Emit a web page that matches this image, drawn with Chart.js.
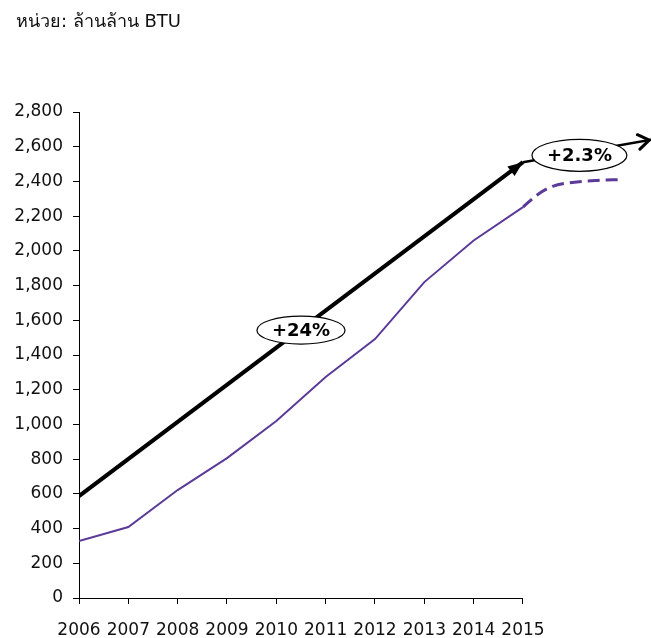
<!DOCTYPE html>
<html>
<head>
<meta charset="utf-8">
<script src="https://cdn.jsdelivr.net/npm/chart.js@4.4.1/dist/chart.umd.min.js"></script>
<style>
  html, body { margin: 0; padding: 0; background: #fff; }
  #wrap { position: relative; width: 651px; height: 638px; overflow: hidden; }
  #chart { position: absolute; left: 0; top: 0; }
  #unit { position: absolute; left: 16px; top: 6px; font: 18px "DejaVu Sans", "Noto Sans", sans-serif; color: #111; }
</style>
</head>
<body>
<div id="wrap">
  <canvas id="chart" width="651" height="638"></canvas>
  <div id="unit">หน่วย: ล้านล้าน BTU</div>
</div>
<script>
// ข้อมูลจริง 2006-2015
const years = [2006, 2007, 2008, 2009, 2010, 2011, 2012, 2013, 2014, 2015];
const demand = [328, 409, 622, 806, 1020, 1273, 1492, 1820, 2060, 2252];

// ส่วนต่อขยาย (เส้นประ)
const outlookYears = [2015, 2015.3, 2015.6, 2016, 2016.5, 2017];
const outlook = [2252, 2325, 2372, 2394, 2406, 2411];

// ลูกศรแนวโน้ม
const trendAX = [2006, 2015];
const trendAY = [587, 2511];
const trendBX = [2015, 2017.6];
const trendBY = [2511, 2640];
const trendLabels = ['+24%', '+2.3%'];

// แกน Y
const yTicks = [0, 200, 400, 600, 800, 1000, 1200, 1400, 1600, 1800, 2000, 2200, 2400, 2600, 2800];

const pts = (xs, ys) => xs.map((v, i) => ({ x: v, y: ys[i] }));
const font = '"DejaVu Sans", Verdana, sans-serif';

const annotate = {
    id: 'annotate',
    beforeDatasetsDraw(chart) {
        const { ctx, scales: { x, y } } = chart;
        // เส้นแกน X เฉพาะช่วงปีที่มีข้อมูล
        ctx.save();
        ctx.strokeStyle = '#000';
        ctx.lineWidth = 1;
        const y0 = Math.round(y.getPixelForValue(0)) + 0.5;
        ctx.beginPath();
        ctx.moveTo(x.getPixelForValue(years[0]), y0);
        ctx.lineTo(x.getPixelForValue(years[years.length - 1]), y0);
        ctx.stroke();
        ctx.restore();
    },
    afterDatasetsDraw(chart) {
        const { ctx, scales: { x, y } } = chart;
        ctx.save();

        // หัวลูกศรทึบของเส้นแรก
        let ex = x.getPixelForValue(trendAX[1]), ey = y.getPixelForValue(trendAY[1]);
        let sx = x.getPixelForValue(trendAX[0]), sy = y.getPixelForValue(trendAY[0]);
        let a = Math.atan2(ey - sy, ex - sx);
        ctx.fillStyle = '#000';
        ctx.beginPath();
        ctx.moveTo(ex, ey);
        ctx.lineTo(ex - 15 * Math.cos(a) + 6 * Math.sin(a), ey - 15 * Math.sin(a) - 6 * Math.cos(a));
        ctx.lineTo(ex - 15 * Math.cos(a) - 6 * Math.sin(a), ey - 15 * Math.sin(a) + 6 * Math.cos(a));
        ctx.closePath();
        ctx.fill();

        // หัวลูกศรเปิดของเส้นที่สอง
        ex = x.getPixelForValue(trendBX[1]) - 2; sx = x.getPixelForValue(trendBX[0]);
        sy = y.getPixelForValue(trendBY[0]);
        a = Math.atan2(y.getPixelForValue(trendBY[1]) - sy, x.getPixelForValue(trendBX[1]) - sx);
        ey = sy + Math.tan(a) * (ex - sx);
        ctx.strokeStyle = '#000';
        ctx.lineWidth = 3;
        ctx.lineCap = 'round';
        ctx.beginPath();
        ctx.moveTo(ex - 13 * Math.cos(a - 0.6), ey - 13 * Math.sin(a - 0.6));
        ctx.lineTo(ex, ey);
        ctx.lineTo(ex - 13 * Math.cos(a + 0.6), ey - 13 * Math.sin(a + 0.6));
        ctx.stroke();

        // ป้ายวงรี
        const spots = [
            [trendAX, trendAY, 0.5, 14],
            [trendBX, trendBY, 0.44, 16]
        ];
        ctx.font = 'bold 18px ' + font;
        ctx.textAlign = 'center';
        ctx.textBaseline = 'middle';
        spots.forEach(([xs, ys, t, ry], i) => {
            const cx = x.getPixelForValue(xs[0] + (xs[1] - xs[0]) * t);
            const cy = y.getPixelForValue(ys[0] + (ys[1] - ys[0]) * t) + (i ? 3 : 1);
            const w = ctx.measureText(trendLabels[i]).width;
            ctx.beginPath();
            ctx.ellipse(cx, cy, w / 2 + 15, ry, 0, 0, Math.PI * 2);
            ctx.fillStyle = '#fff';
            ctx.fill();
            ctx.lineWidth = 1.2;
            ctx.strokeStyle = '#000';
            ctx.stroke();
            ctx.fillStyle = '#000';
            ctx.fillText(trendLabels[i], cx, cy + 1);
        });
        ctx.restore();
    }
};

new Chart(document.getElementById('chart'), {
    type: 'line',
    data: {
        datasets: [
            {
                label: 'demand',
                data: pts(years, demand),
                borderColor: '#5b3a98',
                borderWidth: 2,
                pointRadius: 0,
                tension: 0
            },
            {
                label: 'outlook',
                data: pts(outlookYears, outlook),
                borderColor: '#5b3a98',
                borderWidth: 3,
                borderDash: [12, 6],
                pointRadius: 0,
                cubicInterpolationMode: 'monotone'
            },
            {
                label: 'trendA',
                data: pts(trendAX, trendAY),
                borderColor: '#000',
                borderWidth: 4,
                pointRadius: 0
            },
            {
                label: 'trendB',
                data: pts(trendBX, trendBY),
                borderColor: '#000',
                borderWidth: 2.5,
                pointRadius: 0
            }
        ]
    },
    options: {
        responsive: false,
        animation: false,
        devicePixelRatio: 1,
        layout: { padding: { top: 112, right: 0, bottom: 0, left: 0 } },
        plugins: {
            legend: { display: false },
            tooltip: { enabled: false }
        },
        scales: {
            x: {
                type: 'linear',
                min: 2006,
                max: 2017.595,
                afterBuildTicks: s => { s.ticks = years.map(v => ({ value: v })); },
                afterFit: s => { s.height = 40; },
                border: { display: false },
                grid: { drawOnChartArea: false, drawTicks: true, tickLength: 6, color: '#000' },
                ticks: {
                    padding: 16,
                    maxRotation: 0,
                    autoSkip: false,
                    color: '#111',
                    font: { family: font, size: 17 },
                    callback: v => String(v)
                }
            },
            y: {
                min: 0,
                max: 2800,
                afterBuildTicks: s => { s.ticks = yTicks.map(v => ({ value: v })); },
                afterFit: s => { s.width = 79; },
                border: { display: true, color: '#000', width: 1 },
                grid: { drawOnChartArea: false, drawTicks: true, tickLength: 6, color: '#000' },
                ticks: {
                    padding: 10,
                    color: '#111',
                    font: { family: font, size: 17 },
                    callback: v => v.toLocaleString('en-US')
                }
            }
        }
    },
    plugins: [annotate]
});
</script>
</body>
</html>
